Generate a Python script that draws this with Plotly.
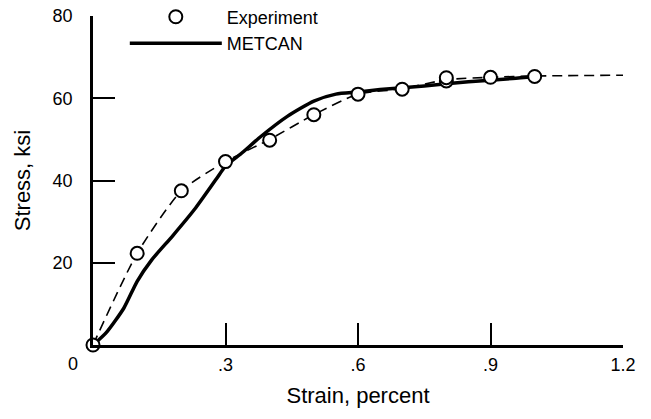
import plotly.graph_objects as go

# Experiment data points
exp_strain = [0.0, 0.1, 0.2, 0.3, 0.4, 0.5, 0.6, 0.7, 0.8, 0.8, 0.9, 1.0]
exp_stress = [0.0, 22.3, 37.5, 44.6, 49.8, 56.0, 61.0, 62.2, 64.2, 65.0, 65.1, 65.3]

# Dashed fit through experiment
fit_strain = [0.0, 0.1, 0.2, 0.3, 0.4, 0.5, 0.6, 0.7, 0.8, 0.9, 1.0, 1.2]
fit_stress = [0.0, 22.3, 37.5, 44.6, 50.0, 56.0, 61.0, 62.3, 64.5, 65.1, 65.4, 65.6]

# METCAN prediction
metcan_strain = [0.0, 0.03, 0.07, 0.10, 0.133, 0.18, 0.23, 0.28, 0.30, 0.335, 0.38,
                 0.44, 0.50, 0.55, 0.60, 0.65, 0.75, 0.85, 0.95, 1.0]
metcan_stress = [0.0, 3.0, 9.0, 15.5, 20.7, 26.5, 33.0, 40.5, 43.5, 46.5, 50.7,
                 55.6, 59.3, 61.0, 61.5, 62.1, 63.0, 64.0, 64.8, 65.3]

x_ticks = [0.3, 0.6, 0.9, 1.2]
x_tick_text = [".3", ".6", ".9", "1.2"]
y_ticks = [20, 40, 60, 80]
y_tick_text = ["20", "40", "60", "80"]

FONT = "Liberation Sans, Arial, Helvetica, sans-serif"
FS = 18

fig = go.Figure()
fig.add_trace(go.Scatter(
    x=fit_strain, y=fit_stress, mode="lines", showlegend=False,
    line=dict(color="black", width=1.6, dash="10px,6px", shape="spline", smoothing=0.6),
    hoverinfo="skip"))
fig.add_trace(go.Scatter(
    x=metcan_strain, y=metcan_stress, mode="lines", name="METCAN",
    line=dict(color="black", width=3.5, shape="spline", smoothing=0.6)))
fig.add_trace(go.Scatter(
    x=exp_strain, y=exp_stress, mode="markers", name="Experiment",
    marker=dict(symbol="circle", size=13, color="white",
                line=dict(color="black", width=2)),
    cliponaxis=False))

fig.update_layout(
    width=651, height=419,
    margin=dict(l=93, r=28, t=16, b=74, autoexpand=False),
    paper_bgcolor="white", plot_bgcolor="white",
    font=dict(family=FONT, size=FS, color="black"),
    legend=dict(x=0.06, y=1.053, xanchor="left", yanchor="top",
                traceorder="reversed", bgcolor="rgba(0,0,0,0)",
                font=dict(size=FS), itemwidth=92, tracegroupgap=0),
    xaxis=dict(range=[0, 1.2], showline=True, linecolor="black", linewidth=2.5,
               ticks="inside", ticklen=22, tickwidth=2, tickcolor="black",
               tickvals=x_ticks, ticktext=x_tick_text, showgrid=False,
               zeroline=False, ticklabelstandoff=2, tickfont=dict(size=FS),
               title=dict(text="Strain, percent", standoff=14)),
    yaxis=dict(range=[0, 80], showline=True, linecolor="black", linewidth=2.5,
               ticks="inside", ticklen=22, tickwidth=2, tickcolor="black",
               tickvals=y_ticks, ticktext=y_tick_text, showgrid=False,
               zeroline=False, ticklabelstandoff=14, tickfont=dict(size=FS),
               title=dict(text="Stress, ksi", standoff=16)),
)
fig.add_annotation(text="0", xref="x", yref="y", x=0, y=0, xshift=-20, yshift=-19,
                   showarrow=False, font=dict(size=FS, family=FONT))

fig.write_html("out.html")
